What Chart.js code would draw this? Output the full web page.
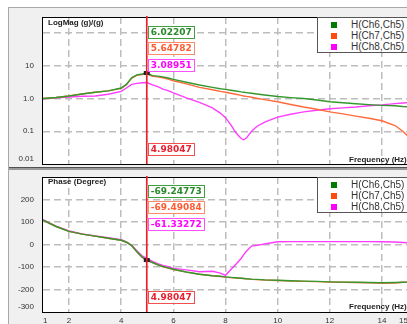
<!DOCTYPE html>
<html><head><meta charset="utf-8">
<script src="https://cdn.jsdelivr.net/npm/chart.js@4"></script>
<style>
html,body{margin:0;padding:0;background:#fff;overflow:hidden;width:407px;height:324px;}
#frame{position:absolute;left:8px;top:7px;width:460px;height:330px;background:#f0f0f0;border-top:1px solid #a8a8a8;border-left:1px solid #a8a8a8;}
#sep1{position:absolute;left:9px;top:167px;width:460px;height:1px;background:#505050;}
#sep2{position:absolute;left:9px;top:168px;width:460px;height:2px;background:#9a9a9a;}
canvas{position:absolute;}
#cu{left:9px;top:8px;}
#cl{left:9px;top:170px;}
.lbl{position:absolute;font:bold 8px "Liberation Sans",Arial,sans-serif;color:#222;white-space:nowrap;line-height:10px;}
.legend{position:absolute;left:317px;width:110px;height:34px;background:#fff;border:1px solid #555;font:10px "Liberation Sans",Arial,sans-serif;color:#333;}
.legend div{position:absolute;left:13px;height:11px;line-height:11px;white-space:nowrap;}
.legend span{display:inline-block;width:6px;height:6px;margin-right:14px;vertical-align:0px;}
</style></head>
<body>
<div id="frame"></div>
<div id="sep1"></div><div id="sep2"></div>
<canvas id="cu" width="420" height="160"></canvas>
<canvas id="cl" width="420" height="154"></canvas>
<div class="lbl" style="left:48px;top:18px;">LogMag (g)/(g)</div>
<div class="lbl" style="left:48px;top:177px;">Phase (Degree)</div>
<div class="lbl" style="left:349px;top:155px;">Frequency (Hz)</div>
<div class="lbl" style="left:349px;top:302px;">Frequency (Hz)</div>
<div class="legend" id="legU" style="top:17px;"></div>
<div class="legend" id="legL" style="top:177px;"></div>
<script>
// ---- data ----
const seriesNames = ['H(Ch6,Ch5)', 'H(Ch7,Ch5)', 'H(Ch8,Ch5)'];
const freq = [1.0, 1.5, 2.0, 2.5, 3.0, 3.5, 4.0, 4.2, 4.4, 4.6, 4.8, 4.98, 5.2, 5.4, 5.6, 5.8, 6.0, 6.5, 7.0, 7.5, 7.8, 8.0, 8.2, 8.4, 8.6, 8.7, 8.8, 9.0, 9.2, 9.5, 10.0, 10.5, 11.0, 11.5, 12.0, 12.5, 13.0, 13.5, 14.0, 14.5, 14.8, 15.0];
const magCh6 = [1.00, 1.08, 1.2, 1.38, 1.55, 1.72, 2.1, 2.7, 4.3, 5.3, 5.6, 6.02, 5.0, 4.85, 4.6, 4.25, 3.85, 3.15, 2.6, 2.2, 2.0, 1.9, 1.8, 1.7, 1.6, 1.56, 1.52, 1.45, 1.38, 1.28, 1.15, 1.07, 1.0, 0.9, 0.8, 0.74, 0.69, 0.65, 0.62, 0.6, 0.57, 0.56];
const magCh7 = [1.00, 1.08, 1.2, 1.38, 1.55, 1.72, 2.05, 2.65, 4.2, 5.1, 5.4, 5.65, 4.8, 4.6, 4.3, 3.9, 3.5, 2.8, 2.2, 1.85, 1.65, 1.55, 1.45, 1.35, 1.25, 1.2, 1.16, 1.1, 1.02, 0.93, 0.8, 0.66, 0.55, 0.47, 0.39, 0.34, 0.29, 0.25, 0.21, 0.15, 0.1, 0.07];
const magCh8 = [0.98, 1.05, 1.12, 1.17, 1.2, 1.35, 1.65, 2.1, 2.7, 2.9, 3.05, 3.09, 2.6, 2.3, 1.95, 1.75, 1.5, 1.05, 0.76, 0.52, 0.36, 0.26, 0.16, 0.09, 0.06, 0.055, 0.062, 0.1, 0.14, 0.19, 0.27, 0.33, 0.39, 0.44, 0.49, 0.52, 0.55, 0.6, 0.64, 0.7, 0.73, 0.75];
const phCh6 = [108, 80, 58, 46, 37, 28, 19, 10, -5, -32, -56, -69.25, -80, -90, -98, -104, -110, -122, -132, -139, -141, -144, -146, -148, -150, -151, -152, -154, -155, -157, -159, -161, -163, -164, -166, -167, -168, -169, -170, -169, -168, -167];
const phCh7 = [108, 80, 58, 46, 37, 28, 19, 10, -5, -32, -56, -69.49, -81, -90, -99, -105, -111, -123, -132, -139, -142, -145, -147, -149, -150, -151, -153, -155, -156, -158, -160, -162, -164, -165, -167, -168, -169, -170, -172, -171, -168, -168];
const phCh8 = [110, 82, 60, 47, 38, 30, 21, 12, -3, -28, -50, -61.33, -75, -85, -93, -99, -106, -113, -121, -119, -127, -137, -112, -88, -62, -45, -30, -7, -4, 2, 12, 13, 13, 13, 13, 13, 13, 13, 12, 11, 9, 8];
const xTicks = [1, 2, 4, 6, 8, 10, 12, 14, 15];
const magTicks = [0.01, 0.1, 1, 10, 100];
const magTickLabels = ['0.01', '0.1', '1.0', '10', ''];
const phaseTicks = [-300, -200, -100, 0, 100, 200, 300];
const phaseTickLabels = ['-300', '-200', '-100', '0', '100', '200', ''];
const cursorFreq = 4.98047;
const cursorLabel = '4.98047';
const magCursor = ['6.02207', '5.64782', '3.08951'];
const phaseCursor = ['-69.24773', '-69.49084', '-61.33272'];

// ---- styles ----
const lineColors = ['#34982f', '#ff6a3a', '#ff3cff'];
const legendColors = ['#007a00', '#ff4a10', '#ff00ff'];
const boxBorder = ['#40a040', '#ff8a6a', '#ff50ff'];
const boxText = ['#2a8a2a', '#ff5a30', '#ff00ff'];
const gridCol = '#bdbdbd';
const tickFont = {family: '"Liberation Sans", Arial, sans-serif', size: 8};

['legU', 'legL'].forEach(id => {
  const el = document.getElementById(id);
  seriesNames.forEach((n, i) => {
    const d = document.createElement('div');
    d.style.top = (1 + i * 11) + 'px';
    d.innerHTML = '<span style="background:' + legendColors[i] + '"></span>' + n;
    el.appendChild(d);
  });
});

const framePlugin = {
  id: 'frameCursor',
  beforeDraw(chart) {
    const {ctx, chartArea: a} = chart;
    ctx.save();
    ctx.fillStyle = '#ffffff';
    ctx.fillRect(a.left, a.top, a.right - a.left, a.bottom - a.top);
    ctx.restore();
  },
  afterDraw(chart) {
    const o = chart.options.plugins.frameCursor;
    const {ctx, chartArea: a} = chart;
    ctx.save();
    ctx.strokeStyle = '#000'; ctx.lineWidth = 1;
    ctx.strokeRect(Math.round(a.left) - 0.5, Math.round(a.top) + 0.5, a.right - a.left, a.bottom - a.top);
    const x = chart.scales.x.getPixelForValue(cursorFreq);
    const my = chart.scales.y.getPixelForValue(parseFloat(o.values[0]));
    ctx.fillStyle = '#222';
    ctx.fillRect(x - 3, my - 2, 6, 4);
    ctx.strokeStyle = '#e8202a'; ctx.lineWidth = 1.7;
    ctx.beginPath(); ctx.moveTo(x, a.top - 1); ctx.lineTo(x, a.bottom); ctx.stroke();
    ctx.font = 'bold 9px "DejaVu Sans", sans-serif';
    ctx.textBaseline = 'middle';
    const drawBox = (text, top, bc, tc) => {
      const w = ctx.measureText(text).width;
      ctx.fillStyle = 'rgba(255,255,255,0.9)';
      ctx.fillRect(x + 1, top, w + 6, 13);
      ctx.strokeStyle = bc; ctx.lineWidth = 1;
      ctx.strokeRect(Math.round(x) + 1.5, top + 0.5, Math.round(w) + 5, 12);
      ctx.fillStyle = tc;
      ctx.fillText(text, x + 4, top + 7);
    };
    o.values.forEach((t, i) => drawBox(t, a.top + o.tops[i], boxBorder[i], boxText[i]));
    drawBox(cursorLabel, a.bottom - 21, '#f05050', '#e82030');
    ctx.restore();
  }
};

function gridColor(c) {
  const s = c.scale;
  if (c.tick && (c.tick.value === s.min || c.tick.value === s.max)) return 'rgba(0,0,0,0)';
  return gridCol;
}
function zeroPad(s) { s.paddingTop = 0; s.paddingBottom = 0; s.paddingLeft = 0; s.paddingRight = 0; }
// bottom-most label is lifted inside the plot (two-line label with empty second line)
function yLabel(ticks, labels) {
  return (v, idx) => {
    const k = ticks.indexOf(v);
    if (k < 0) return '';
    return k === 0 ? [labels[k], ''] : labels[k];
  };
}

function makeChart(id, series, yScale, pad, xLabels, cursorVals, tops, target) {
  const ch = new Chart(document.getElementById(id), {
    type: 'line',
    data: {
      datasets: series.map((vals, i) => ({
        label: seriesNames[i],
        data: freq.map((f, j) => ({x: f, y: vals[j]})),
        borderColor: lineColors[i],
        borderWidth: 1.4,
        pointRadius: 0,
        tension: 0,
        fill: false
      }))
    },
    options: {
      responsive: false, animation: false, events: [],
      layout: {padding: pad},
      plugins: {legend: {display: false}, tooltip: {enabled: false},
        frameCursor: {values: cursorVals, tops: tops}},
      scales: {
        x: {
          type: 'linear', min: 1, max: 15,
          afterBuildTicks: s => { s.ticks = xTicks.map(v => ({value: v})); },
          ticks: {display: xLabels, font: tickFont, color: '#333', padding: 4, maxRotation: 0, autoSkip: false, align: 'inner',
            callback: v => String(v)},
          grid: {color: gridColor, lineWidth: 1.5, drawTicks: false},
          border: {display: false, dash: [7, 4]},
          afterFit: s => { s.height = xLabels ? 12 : 0; zeroPad(s); }
        },
        y: Object.assign({
          grid: {color: gridColor, lineWidth: 1.5, drawTicks: false},
          border: {display: false, dash: [7, 4]},
          afterFit: s => { s.width = 34; zeroPad(s); }
        }, yScale)
      }
    },
    plugins: [framePlugin]
  });
  for (let k = 0; k < 3; k++) {
    const a = ch.chartArea, p = ch.options.layout.padding;
    const dt = target.top - a.top, db = a.bottom - target.bottom, dl = target.left - a.left, dr = a.right - target.right;
    if (Math.abs(dt) + Math.abs(db) + Math.abs(dl) + Math.abs(dr) < 0.2) break;
    p.top += dt; p.bottom += db; p.left += dl; p.right += dr;
    ch.update();
  }
  return ch;
}

makeChart('cu', [magCh6, magCh7, magCh8], {
  type: 'logarithmic', min: 0.01, max: 310,
  afterBuildTicks: s => { s.ticks = magTicks.map(v => ({value: v})); },
  ticks: {font: tickFont, color: '#333', padding: 9, autoSkip: false,
    callback: yLabel(magTicks, magTickLabels)}
}, {top: 9, bottom: 4, left: 0, right: 21}, false, magCursor, [9, 25, 42],
  {left: 34, top: 9, right: 399, bottom: 156});

makeChart('cl', [phCh6, phCh7, phCh8], {
  type: 'linear', min: -300, max: 300,
  afterBuildTicks: s => { s.ticks = phaseTicks.map(v => ({value: v})); },
  ticks: {font: tickFont, color: '#333', padding: 9, autoSkip: false,
    callback: yLabel(phaseTicks, phaseTickLabels)}
}, {top: 7, bottom: 0, left: 0, right: 21}, true, phaseCursor, [8, 24, 41],
  {left: 34, top: 7, right: 399, bottom: 142});
</script>
</body></html>
